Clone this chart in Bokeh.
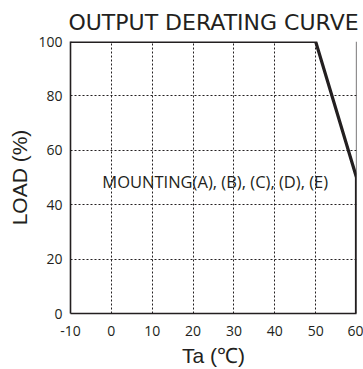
from bokeh.plotting import figure
from bokeh.models import Range1d, FixedTicker, Label, Span
from bokeh.embed import file_html
from bokeh.resources import INLINE

# data
temps = [-10, 50, 60, 60]
loads = [100, 100, 50, 0]
x_ticks = [-10, 0, 10, 20, 30, 40, 50, 60]
x_tick_labels = ["-10", "0", "10", "20", "30", "40", "50", "60"]
y_ticks = [0, 20, 40, 60, 80, 100]
note = "MOUNTING(A), (B), (C), (D), (E)"
ink = "#231f20"

p = figure(width=363, height=369, output_backend="svg", toolbar_location=None,
           x_range=Range1d(-10, 60), y_range=Range1d(0, 100),
           min_border_left=70, min_border_right=7, min_border_top=0, min_border_bottom=0)
p.background_fill_color = "white"
p.border_fill_color = "white"
p.outline_line_color = None

p.title.text = "OUTPUT DERATING CURVE"
p.title.align = "center"
p.title.offset = -3
p.title.text_font = "DejaVu Sans"
p.title.text_font_size = "22px"
p.title.text_font_style = "normal"
p.title.text_color = ink
p.title.standoff = 14

for ax in (p.xaxis[0], p.yaxis[0]):
    ax.axis_line_color = ink
    ax.axis_line_width = 1.6
    ax.major_tick_line_color = None
    ax.minor_tick_line_color = None
    ax.major_tick_out = 0
    ax.major_tick_in = 0
    ax.minor_tick_out = 0
    ax.minor_tick_in = 0
    ax.major_label_text_font = "Open Sans"
    ax.major_label_text_font_size = "14px"
    ax.major_label_text_color = ink
    ax.axis_label_text_font = "Liberation Sans"
    ax.axis_label_text_font_size = "21px"
    ax.axis_label_text_font_style = "normal"
    ax.axis_label_text_color = ink

p.xaxis.ticker = FixedTicker(ticks=x_ticks)
p.xaxis.major_label_overrides = {t: s for t, s in zip(x_ticks, x_tick_labels)}
p.yaxis.ticker = FixedTicker(ticks=y_ticks)
p.xaxis.axis_label = "Ta (℃)"
p.yaxis.axis_label = "LOAD (%)"
p.xaxis.major_label_standoff = 12
p.yaxis.major_label_standoff = 8
p.xaxis.axis_label_standoff = 5
p.yaxis.axis_label_standoff = 4

p.add_layout(Span(location=60, dimension="height", line_color=ink, line_width=1.2))

for g in (p.xgrid[0], p.ygrid[0]):
    g.grid_line_color = ink
    g.grid_line_dash = "2 2"
    g.grid_line_width = 1
p.xgrid.ticker = FixedTicker(ticks=x_ticks)
p.ygrid.ticker = FixedTicker(ticks=y_ticks)

p.line(temps, loads, line_color=ink, line_width=3.2, line_join="miter")

p.add_layout(Label(x=-2.2, y=48.5, text=note, text_font="Open Sans", text_font_size="16.5px",
                   text_color=ink, text_baseline="middle"))

open("out.html", "w").write(file_html(p, INLINE))
